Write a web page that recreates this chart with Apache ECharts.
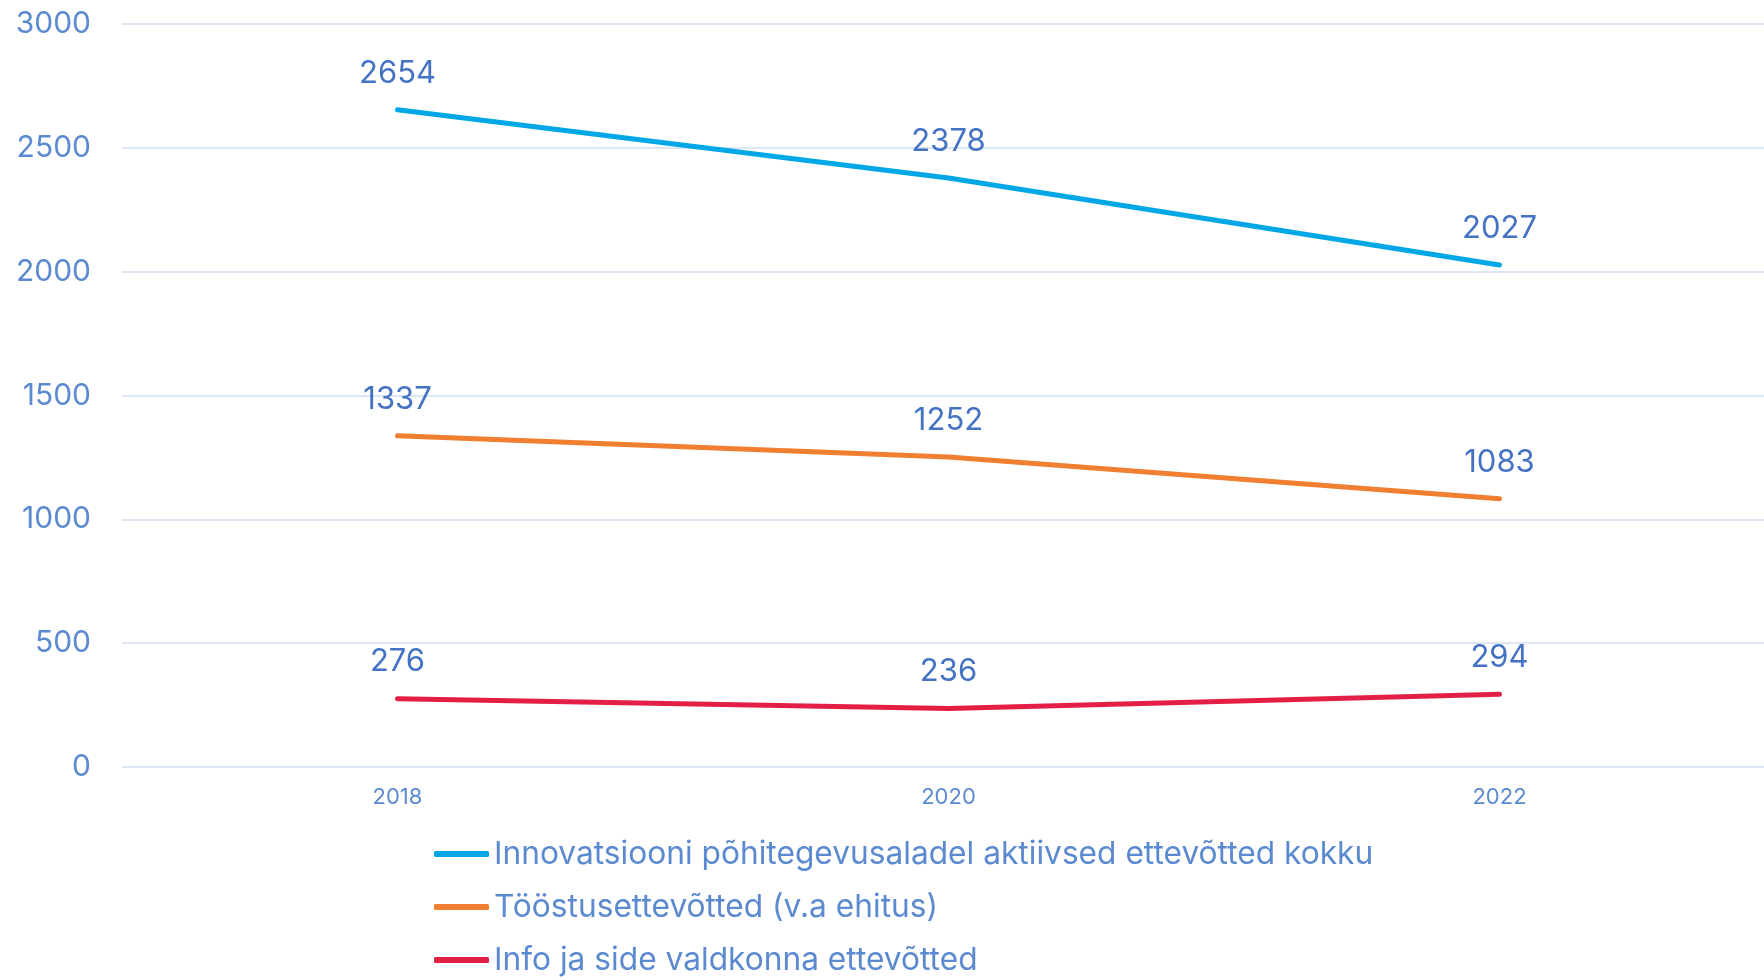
<!DOCTYPE html>
<html>
<head>
<meta charset="utf-8">
<script src="https://cdn.jsdelivr.net/npm/echarts@6/dist/echarts.min.js"></script>
<style>
html,body{margin:0;padding:0;background:#fff;overflow:hidden;width:1764px;height:980px;}
#c{width:1775px;height:980px;}
</style>
</head>
<body>
<div id="c"></div>
<script>
var categories = ['2018', '2020', '2022'];
var seriesNames = [
  'Innovatsiooni põhitegevusaladel aktiivsed ettevõtted kokku',
  'Tööstusettevõtted (v.a ehitus)',
  'Info ja side valdkonna ettevõtted'
];
var totalValues = [2654, 2378, 2027];
var industryValues = [1337, 1252, 1083];
var infoValues = [276, 236, 294];
var yTicks = [0, 500, 1000, 1500, 2000, 2500, 3000];
var colors = ['#00a7e7', '#f07f32', '#e31f45'];

var font = 'Inter';
var labelColor = '#4472c4';
var axisColor = '#5b8ad0';

function mkSeries(name, data, color) {
  return {
    name: name,
    type: 'line',
    data: data,
    symbol: 'circle',
    symbolSize: 0,
    showSymbol: true,
    lineStyle: {width: 5, color: color, cap: 'round'},
    itemStyle: {color: color},
    label: {
      show: true,
      position: 'top',
      distance: 21,
      fontFamily: font,
      fontSize: 31,
      color: labelColor
    }
  };
}

var chart = echarts.init(document.getElementById('c'));
chart.setOption({
  animation: false,
  backgroundColor: '#fff',
  grid: {left: 122, right: 0, top: 24, bottom: 213, containLabel: false},
  xAxis: {
    type: 'category',
    data: categories,
    boundaryGap: true,
    axisLine: {show: false},
    axisTick: {show: false},
    axisLabel: {fontFamily: font, fontSize: 22, color: axisColor, margin: 19}
  },
  yAxis: {
    type: 'value',
    min: yTicks[0],
    max: yTicks[yTicks.length - 1],
    interval: 500,
    axisLine: {show: false},
    axisTick: {show: false},
    axisLabel: {fontFamily: font, fontSize: 30, color: axisColor, margin: 31,
      formatter: function (v) { return String(v); }},
    splitLine: {lineStyle: {color: '#dde6f3', width: 2}}
  },
  legend: {
    orient: 'vertical',
    left: 434,
    top: 838,
    padding: 0,
    itemWidth: 55,
    itemHeight: 6,
    itemGap: 21,
    icon: 'roundRect',
    textStyle: {fontFamily: font, fontSize: 31.7, lineHeight: 32, color: axisColor},
    data: seriesNames
  },
  series: [
    mkSeries(seriesNames[0], totalValues, colors[0]),
    mkSeries(seriesNames[1], industryValues, colors[1]),
    mkSeries(seriesNames[2], infoValues, colors[2])
  ]
});
</script>
</body>
</html>
